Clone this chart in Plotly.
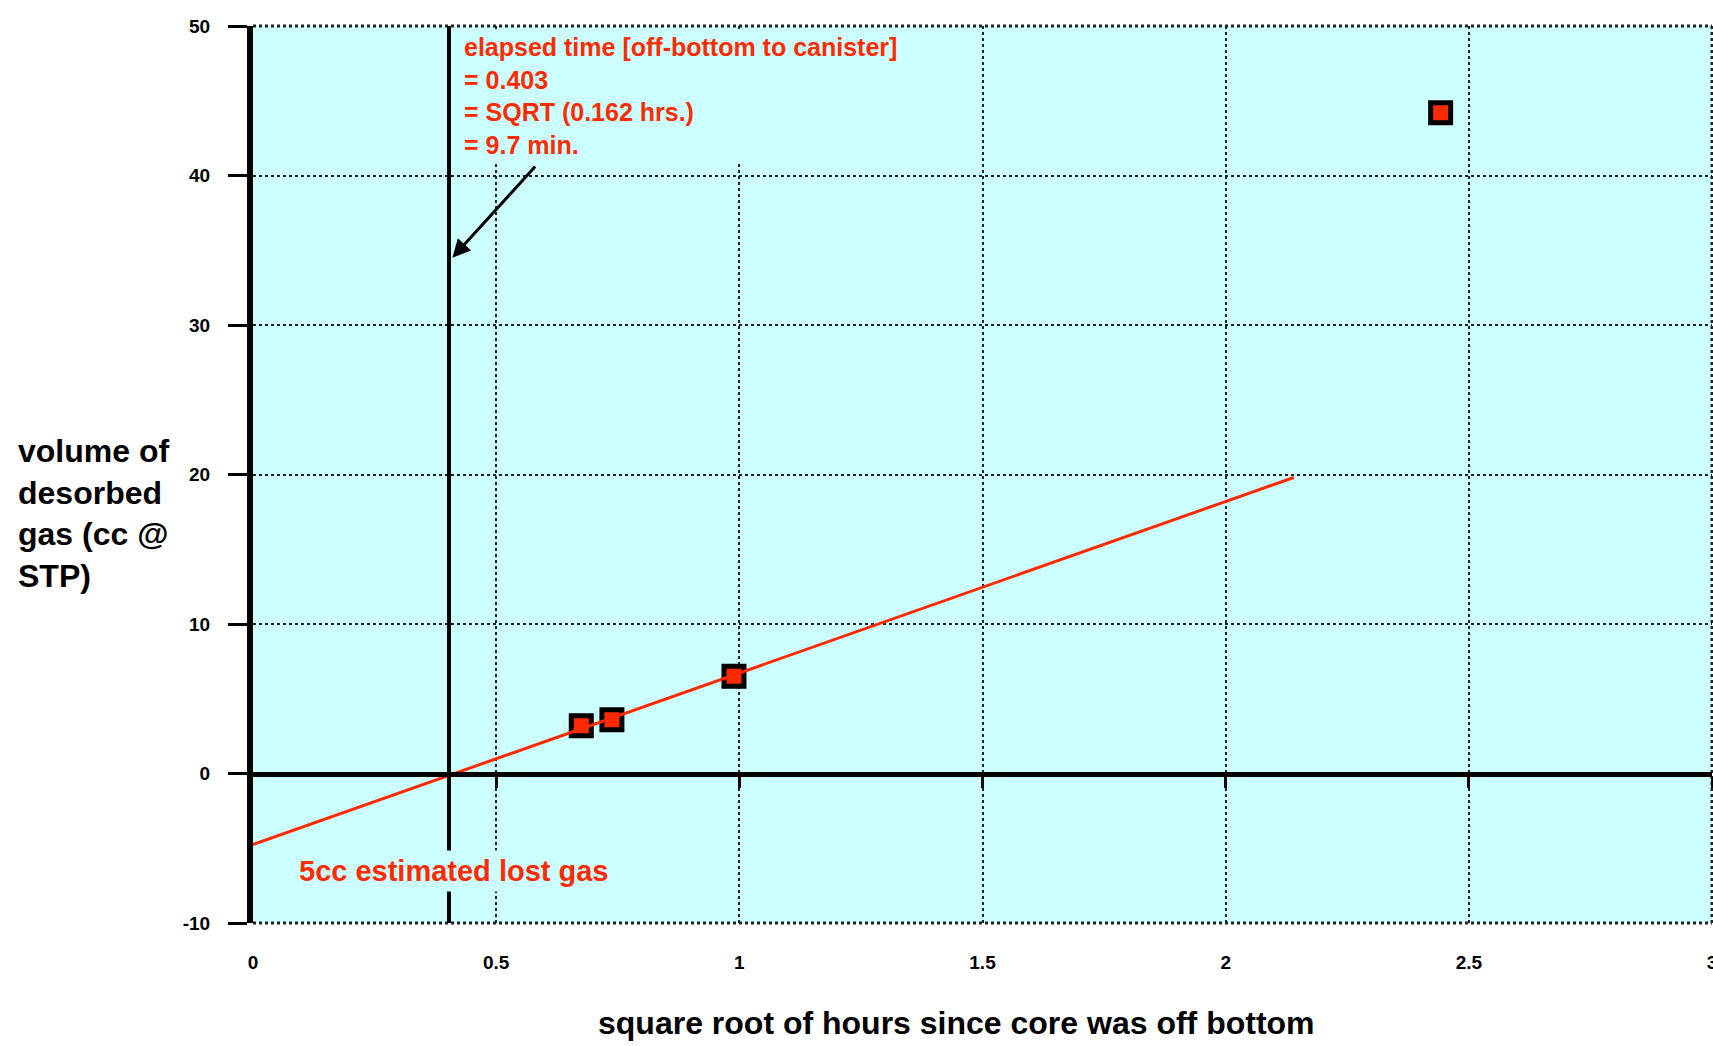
import plotly.graph_objects as go

# ---- data ----
sample_sqrt_hours = [0.675, 0.738, 0.989, 2.442]
sample_gas_cc = [3.2, 3.6, 6.5, 44.2]
fit_x = [0.0, 2.14]
fit_y = [-4.75, 19.8]
lost_time_sqrt = 0.403
x_ticks = [0, 0.5, 1, 1.5, 2, 2.5, 3]
x_tick_labels = ["0", "0.5", "1", "1.5", "2", "2.5", "3"]
y_ticks = [-10, 0, 10, 20, 30, 40, 50]
y_tick_labels = ["-10", "0", "10", "20", "30", "40", "50"]
x_range = [0, 3]
y_range = [-10, 50]

RED = "#FF2A00"
BG = "#CCFFFF"
FONT = "Liberation Sans, Arial, sans-serif"
GRID = "#222222"

fig = go.Figure()

# vertical line at lost-time intercept
fig.add_trace(go.Scatter(
    x=[lost_time_sqrt, lost_time_sqrt], y=y_range, mode="lines",
    line=dict(color="black", width=4), hoverinfo="skip", showlegend=False))

# data points
fig.add_trace(go.Scatter(
    x=sample_sqrt_hours, y=sample_gas_cc, mode="markers",
    marker=dict(symbol="square", size=20, color=RED,
                line=dict(color="black", width=5)),
    showlegend=False))

# fitted line
fig.add_trace(go.Scatter(
    x=fit_x, y=fit_y, mode="lines",
    line=dict(color=RED, width=3), showlegend=False))

# invisible trace for zero-crossing axis
fig.add_trace(go.Scatter(x=x_range, y=[0, 0], xaxis="x2", mode="lines",
                         line=dict(width=0), hoverinfo="skip", showlegend=False))

grid = dict(showgrid=True, gridcolor=GRID, griddash="dot", gridwidth=2)

fig.update_layout(
    width=1713, height=1046,
    margin=dict(l=253, r=1, t=26, b=123),
    paper_bgcolor="white", plot_bgcolor=BG,
    font=dict(family=FONT, color="black"),
    xaxis=dict(range=x_range, tickvals=x_ticks, ticktext=x_tick_labels,
               showline=False, zeroline=False, ticks="", automargin=False,
               ticklabelstandoff=26, ticklabeloverflow="allow",
               tickfont=dict(size=19, weight="bold"), **grid),
    xaxis2=dict(range=x_range, overlaying="x", anchor="free", position=1/6,
                side="bottom", showline=True, linecolor="black", linewidth=5,
                ticks="outside", ticklen=11, tickwidth=3, tickcolor="black",
                tickvals=x_ticks[1:], showticklabels=False, showgrid=False,
                zeroline=False, automargin=False),
    yaxis=dict(range=y_range, tickvals=y_ticks, ticktext=y_tick_labels,
               showline=True, linecolor="black", linewidth=6, automargin=False,
               ticks="outside", ticklen=19, tickwidth=3, tickcolor="black",
               ticklabelstandoff=14, zeroline=False,
               tickfont=dict(size=19, weight="bold"), **grid),
)

# dotted frame on top, bottom and right edges of the plot area
for x0, y0, x1, y1 in [(0, 1, 1, 1), (0, 0, 1, 0), (1, 0, 1, 1)]:
    fig.add_shape(type="line", xref="paper", yref="paper",
                  x0=x0, y0=y0, x1=x1, y1=y1,
                  line=dict(color=GRID, width=3, dash="dot"), layer="below")

fig.add_annotation(
    text="elapsed time [off-bottom to canister]<br>= 0.403<br>= SQRT (0.162 hrs.)<br>= 9.7 min.",
    xref="x", yref="y", x=0.425, y=49.8, xanchor="left", yanchor="top",
    align="left", showarrow=False, bgcolor=BG, borderpad=3,
    font=dict(size=25, color=RED, weight="bold", family=FONT))

fig.add_annotation(
    text="", xref="x", yref="y", axref="x", ayref="y",
    x=0.41, y=34.5, ax=0.583, ay=40.7,
    showarrow=True, arrowhead=2, arrowsize=1.2, arrowwidth=3, arrowcolor="black")

fig.add_annotation(
    text="5cc estimated lost gas", xref="x", yref="y",
    x=0.085, y=-6.5, xanchor="left", yanchor="middle", showarrow=False,
    bgcolor=BG, borderpad=4,
    font=dict(size=29, color=RED, weight="bold", family=FONT))

fig.add_annotation(
    text="volume of<br>desorbed<br>gas (cc @<br>STP)", xref="paper", yref="paper",
    x=-0.1623, y=0.457, xanchor="left", yanchor="middle", align="left",
    showarrow=False, font=dict(size=32, weight="bold", family=FONT))

fig.add_annotation(
    text="square root of hours since core was off bottom", xref="paper", yref="paper",
    x=0.482, y=-0.111, xanchor="center", yanchor="middle", showarrow=False,
    font=dict(size=32, weight="bold", family=FONT))

fig.write_html(
    "out.html",
    config={"displayModeBar": False},
    post_script="document.body.style.margin='0';document.body.style.overflow='hidden';",
)
